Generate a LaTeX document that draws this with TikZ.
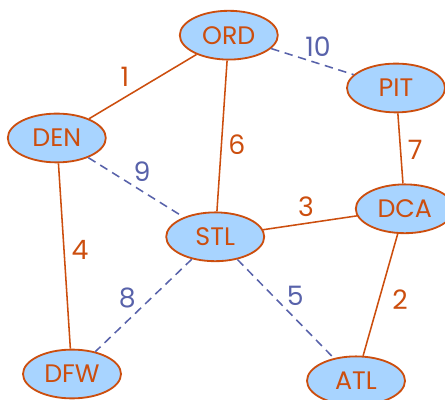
\documentclass[tikz,border=0pt]{standalone}
\usepackage{fontspec}
\setmainfont{Poppins}
\usepackage{tikz}
\usetikzlibrary{shapes.geometric}
\definecolor{rust}{RGB}{204,78,14}
\definecolor{sky}{RGB}{168,212,255}
\definecolor{slate}{RGB}{88,98,170}

\begin{document}
\begin{tikzpicture}[
    airport/.style={draw=rust, fill=sky, ellipse, line width=1.3pt, minimum width=2.45cm, minimum height=1.22cm, inner sep=0pt, text=rust, font=\fontsize{18}{18}\selectfont},
    road/.style={rust, line width=1.1pt},
    dashroad/.style={slate, line width=1.1pt, dash pattern=on 6pt off 4pt},
    cost/.style={font=\fontsize{19}{19}\selectfont}
]
    \useasboundingbox (0, 0) rectangle (11.125, 10);

    \node[airport] at (5.72, 9.12) (ord) {ORD};
    \node[airport] at (9.9, 7.8) (pit) {PIT};
    \node[airport] at (1.42, 6.55) (den) {DEN};
    \node[airport] at (5.38, 4.08) (stl) {STL};
    \node[airport] at (10.12, 4.78) (dca) {DCA};
    \node[airport] at (1.8, 0.65) (dfw) {DFW};
    \node[airport] at (8.9, 0.48) (atl) {ATL};

    \draw[road] (ord) -- (den);
    \draw[road] (ord) -- (stl);
    \draw[dashroad] (ord) -- (pit);
    \draw[road] (pit) -- (dca);
    \draw[dashroad] (den) -- (stl);
    \draw[road] (den) -- (dfw);
    \draw[road] (stl) -- (dca);
    \draw[dashroad] (stl) -- (dfw);
    \draw[dashroad] (stl) -- (atl);
    \draw[road] (dca) -- (atl);

    \node[cost, rust] at (3.12, 8.07) (c1) {1};
    \node[cost, slate] at (7.95, 8.82) (c10) {10};
    \node[cost, rust] at (5.92, 6.38) (c6) {6};
    \node[cost, rust] at (10.38, 6.25) (c7) {7};
    \node[cost, slate] at (3.55, 5.7) (c9) {9};
    \node[cost, rust] at (7.65, 4.82) (c3) {3};
    \node[cost, rust] at (2.0, 3.75) (c4) {4};
    \node[cost, slate] at (3.18, 2.55) (c8) {8};
    \node[cost, slate] at (7.38, 2.6) (c5) {5};
    \node[cost, rust] at (10.0, 2.5) (c2) {2};
\end{tikzpicture}
\end{document}
